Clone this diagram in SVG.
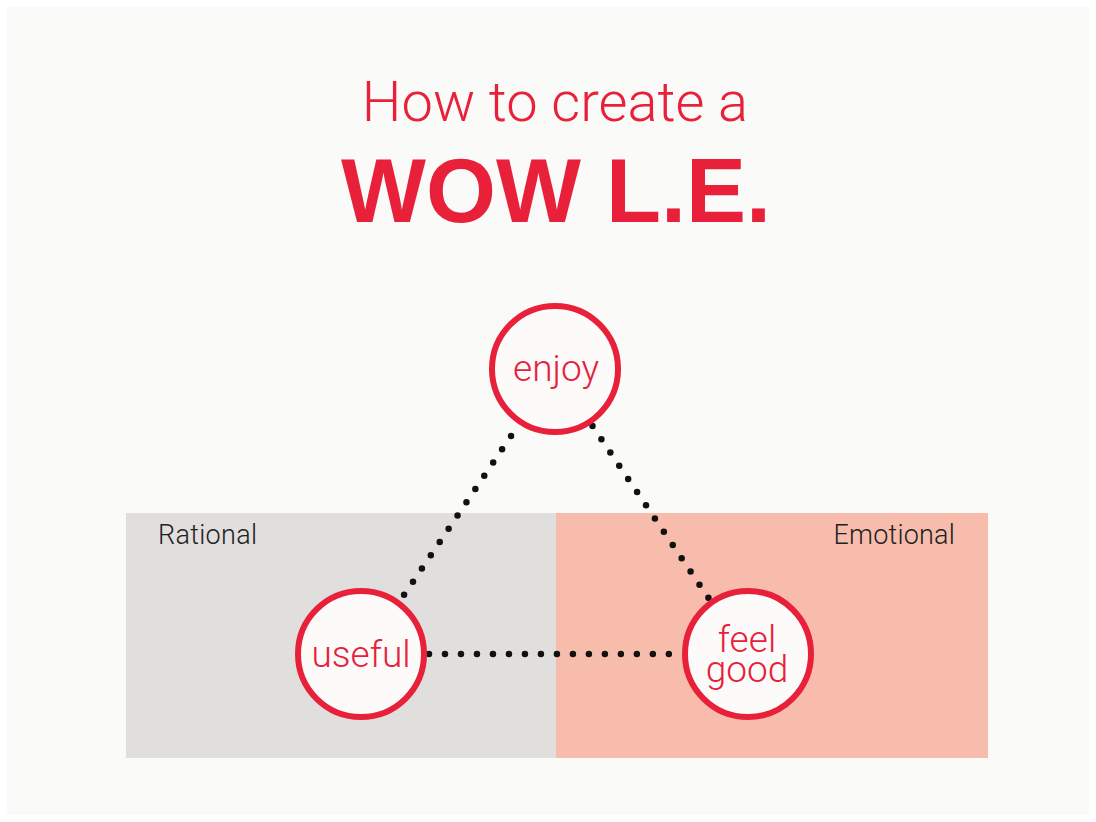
<svg xmlns="http://www.w3.org/2000/svg" width="1096" height="822" viewBox="0 0 1096 822">
  <style>
    .title { font-family: Roboto, "Liberation Sans", sans-serif; font-weight: 300; fill: #e8203a; }
    .big { font-family: "Liberation Sans", Arial, sans-serif; font-weight: 700; fill: #e8203a; }
    .zone { font-family: Roboto, "Liberation Sans", sans-serif; font-weight: 300; font-size: 27px; fill: #222222; }
    .node circle { fill: #fcfbfa; stroke: #e8203a; stroke-width: 6; }
    .node text { font-family: Roboto, "Liberation Sans", sans-serif; font-weight: 300; font-size: 37px; fill: #e8203a; text-anchor: middle; }
    .dots line { stroke: #111111; stroke-width: 6.5; stroke-linecap: round; stroke-dasharray: 0 1; }
  </style>
  <rect x="0" y="0" width="1096" height="822" fill="#ffffff"/>
  <rect x="7" y="7" width="1082" height="808" fill="#fafaf8"/>

  <g id="title">
    <text class="title" x="555" y="121" font-size="56" text-anchor="middle">How to create a</text>
    <text class="big" x="556" y="222" font-size="90" text-anchor="middle">WOW L.E.</text>
  </g>

  <g id="zones">
    <rect x="126" y="513" width="430" height="245" fill="#e0dfdd"/>
    <rect x="556" y="513" width="432" height="245" fill="#f8bcac"/>
    <text class="zone" x="158" y="544" letter-spacing="0.3">Rational</text>
    <text class="zone" x="955" y="544" text-anchor="end" letter-spacing="0.2">Emotional</text>
  </g>

  <g id="connectors" class="dots">
    <line x1="511" y1="436" x2="404" y2="595" pathLength="12.01"/>
    <line x1="592.5" y1="426" x2="708.5" y2="598" pathLength="13.01"/>
    <line x1="429" y1="654" x2="669" y2="654" pathLength="15.01"/>
  </g>

  <g id="node-enjoy" class="node">
    <circle cx="555" cy="369" r="63"/>
    <text x="556" y="381">enjoy</text>
  </g>
  <g id="node-useful" class="node">
    <circle cx="361" cy="654" r="63"/>
    <text x="361" y="667">useful</text>
  </g>
  <g id="node-feelgood" class="node">
    <circle cx="748" cy="654" r="63"/>
    <text x="747" y="652">feel</text>
    <text x="747" y="682">good</text>
  </g>
</svg>
